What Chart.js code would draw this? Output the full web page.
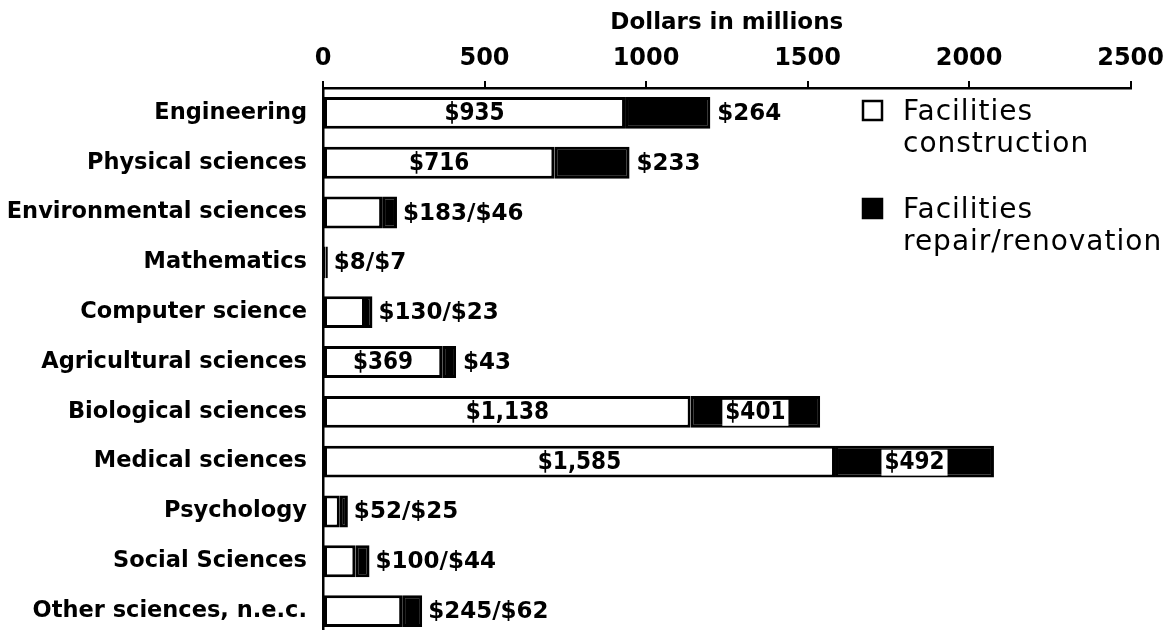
<!DOCTYPE html>
<html><head><meta charset="utf-8">
<script src="https://cdn.jsdelivr.net/npm/chart.js@4.4.1/dist/chart.umd.min.js"></script>
<style>html,body{margin:0;padding:0;background:#fff;overflow:hidden;width:1172px;height:630px}#wrap{width:1172px;height:636px}</style>
</head><body><div id="wrap"><canvas id="c" width="1172" height="636"></canvas></div>
<script>
const categories = ["Engineering","Physical sciences","Environmental sciences","Mathematics","Computer science","Agricultural sciences","Biological sciences","Medical sciences","Psychology","Social Sciences","Other sciences, n.e.c."];
const construction = [935,716,183,8,130,369,1138,1585,52,100,245];
const repair = [264,233,46,7,23,43,401,492,25,44,62];
const seriesNames = [["Facilities","construction"],["Facilities","repair/renovation"]];
const xTicks = [0,500,1000,1500,2000,2500];
const axisTitle = "Dollars in millions";

const BOLD = '"DejaVu Sans", sans-serif';
const COND = '"DejaVu Sans Condensed", "DejaVu Sans", sans-serif';
const fmt = v => '$' + v.toLocaleString('en-US');

const titlePlugin = {
  id: 'axisTitle',
  afterDraw(chart) {
    const ctx = chart.ctx;
    const xs = chart.scales.x;
    ctx.save();
    ctx.font = 'bold 23px ' + BOLD;
    ctx.fillStyle = '#000';
    ctx.textAlign = 'center';
    ctx.textBaseline = 'middle';
    ctx.fillText(axisTitle, (xs.left + xs.right) / 2, 23);
    ctx.restore();
  }
};

const legendPlugin = {
  id: 'sideLegend',
  afterDraw(chart) {
    const ctx = chart.ctx;
    ctx.save();
    chart.data.datasets.forEach((ds, i) => {
      const base = 120 + i * 98;
      ctx.fillStyle = ds.backgroundColor;
      ctx.fillRect(863, base - 19, 19, 19);
      ctx.strokeStyle = '#000';
      ctx.lineWidth = 2.5;
      ctx.strokeRect(863, base - 19, 19, 19);
      ctx.fillStyle = '#000';
      ctx.font = '28px "DejaVu Sans", sans-serif';
      try { ctx.letterSpacing = '1px'; } catch (e) {}
      ctx.textAlign = 'left';
      ctx.textBaseline = 'alphabetic';
      seriesNames[i].forEach((line, k) => ctx.fillText(line, 903, base + k * 32));
    });
    ctx.restore();
  }
};

const labelPlugin = {
  id: 'barLabels',
  afterDatasetsDraw(chart) {
    const ctx = chart.ctx;
    const m0 = chart.getDatasetMeta(0).data;
    const m1 = chart.getDatasetMeta(1).data;
    ctx.save();
    ctx.textBaseline = 'middle';
    categories.forEach((c, i) => {
      const a = m0[i], b = m1[i];
      const y = a.y + 1;
      const w0 = a.x - a.base, w1 = b.x - b.base;
      if (w0 > 90) {
        ctx.font = 'bold 24px ' + COND;
        ctx.fillStyle = '#000';
        ctx.textAlign = 'center';
        ctx.fillText(fmt(construction[i]), (a.x + a.base) / 2, y);
        const t = fmt(repair[i]);
        if (w1 > 120) {
          const tw = ctx.measureText(t).width;
          const cx = (b.x + b.base) / 2;
          ctx.fillStyle = '#fff';
          ctx.fillRect(cx - tw / 2 - 3, y - 13, tw + 6, 26);
          ctx.fillStyle = '#000';
          ctx.fillText(t, cx, y);
        } else {
          ctx.font = 'bold 23px ' + BOLD;
          ctx.textAlign = 'left';
          ctx.fillText(t, b.x + 7, y);
        }
      } else {
        ctx.font = 'bold 23px ' + BOLD;
        ctx.fillStyle = '#000';
        ctx.textAlign = 'left';
        ctx.fillText(fmt(construction[i]) + '/' + fmt(repair[i]), b.x + 6, y);
      }
    });
    ctx.restore();
  }
};

new Chart(document.getElementById('c'), {
  type: 'bar',
  data: {
    labels: categories,
    datasets: [
      { label: seriesNames[0].join(' '), data: construction, backgroundColor: '#ffffff', borderColor: '#000', borderWidth: 3, borderSkipped: false, barPercentage: 0.64, categoryPercentage: 1 },
      { label: seriesNames[1].join(' '), data: repair, backgroundColor: '#000000', borderColor: '#000', borderWidth: 3, borderSkipped: false, barPercentage: 0.64, categoryPercentage: 1 }
    ]
  },
  options: {
    indexAxis: 'y',
    responsive: false,
    animation: false,
    devicePixelRatio: 1,
    layout: { padding: { left: 0, right: 35, top: 0, bottom: 0 } },
    plugins: { legend: { display: false }, tooltip: { enabled: false }, title: { display: false } },
    scales: {
      x: {
        type: 'linear', position: 'top', stacked: true, min: 0, max: 2500,
        afterBuildTicks: s => { s.ticks = xTicks.map(v => ({ value: v })); },
        afterFit: s => { s.height = 88; },
        ticks: { color: '#000', font: { family: 'DejaVu Sans', weight: 'bold', size: 24 }, padding: 8, maxRotation: 0, callback: v => String(v) },
        grid: { drawOnChartArea: false, drawTicks: true, tickLength: 7, color: '#000', lineWidth: 2 },
        border: { display: true, color: '#000', width: 2.5 }
      },
      y: {
        type: 'category', stacked: true,
        afterFit: s => { s.width = 323; s.paddingTop = 0; s.paddingBottom = 0; },
        ticks: { color: '#000', font: { family: 'DejaVu Sans', weight: 'bold', size: 22.5 }, padding: 8 },
        grid: { display: false },
        border: { display: true, color: '#000', width: 2.5 }
      }
    }
  },
  plugins: [titlePlugin, legendPlugin, labelPlugin]
});
</script></body></html>
